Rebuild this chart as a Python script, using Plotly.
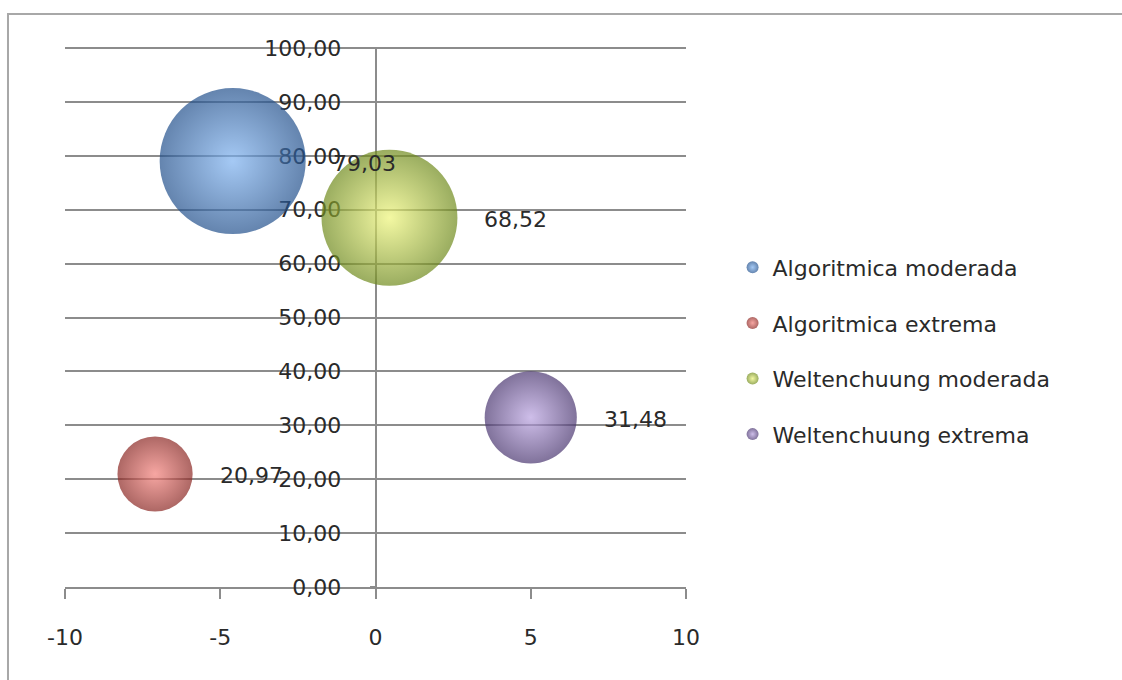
import plotly.graph_objects as go

# Series data
series_names = ["Algoritmica moderada", "Algoritmica extrema",
                "Weltenchuung moderada", "Weltenchuung extrema"]
x_vals = [-4.6, -7.1, 0.45, 5.0]
y_vals = [79.03, 20.97, 68.52, 31.48]
bubble_sizes = [79.03, 20.97, 68.52, 31.48]

# (shaded edge colour, highlight colour) per series
edge_colors = ["#22508c", "#8a2622", "#6f8a1c", "#4a3670"]
center_colors = ["#7eb2f0", "#f3807a", "#eef57a", "#b9a2e0"]

x_ticks = [-10, -5, 0, 5, 10]
x_tick_text = ["-10", "-5", "0", "5", "10"]
y_ticks = [0, 10, 20, 30, 40, 50, 60, 70, 80, 90, 100]

W, H = 1122, 680
MARGIN = dict(l=65, r=436, t=47, b=93)
MAX_DIAM = 146
# area sizing: rendered diameter = sqrt(2 * size / sizeref)
sizeref = 2 * max(bubble_sizes) / MAX_DIAM ** 2

TEXT_COLOR = "#2a2a2a"
AXIS_COLOR = "#8c8c8c"
FONT = "DejaVu Sans"
FSIZE = 22

fig = go.Figure()
for i, name in enumerate(series_names):
    fig.add_trace(go.Scatter(
        x=[x_vals[i]], y=[y_vals[i]],
        mode="markers",
        name=name,
        legendgroup=name,
        cliponaxis=False,
        marker=dict(
            size=[bubble_sizes[i]],
            sizemode="area",
            sizeref=sizeref,
            color=edge_colors[i],
            gradient=dict(type="radial", color=center_colors[i]),
            line=dict(width=0),
        ),
        hoverinfo="skip",
    ))
    # value label to the right of each bubble
    diam = (2 * bubble_sizes[i] / sizeref) ** 0.5
    fig.add_annotation(
        x=x_vals[i], y=y_vals[i], xref="x", yref="y",
        text=f"{y_vals[i]:.2f}".replace(".", ","),
        showarrow=False, xanchor="left", yanchor="middle",
        xshift=diam / 2 + 25,
        yshift=-2,
        font=dict(family=FONT, size=FSIZE, color=TEXT_COLOR),
    )

# outer chart frame
fig.add_shape(type="rect", xref="paper", yref="paper",
              x0=-0.0918, x1=1.8, y0=-0.4, y1=1.061,
              line=dict(color="#a8a8a8", width=2), layer="below")

fig.update_layout(
    width=W, height=H,
    margin=MARGIN,
    paper_bgcolor="white",
    plot_bgcolor="white",
    separators=",.",
    showlegend=True,
    legend=dict(
        x=1.075, y=0.437, xanchor="left", yanchor="middle",
        font=dict(family=FONT, size=FSIZE, color=TEXT_COLOR),
        itemsizing="constant",
        tracegroupgap=24,
        bgcolor="rgba(0,0,0,0)",
    ),
    xaxis=dict(
        range=[-10, 10], tickvals=x_ticks, ticktext=x_tick_text,
        showgrid=False, zeroline=False,
        showline=True, linecolor=AXIS_COLOR, linewidth=1.5,
        ticks="outside", ticklen=10, tickcolor=AXIS_COLOR, tickwidth=1.5,
        ticklabelstandoff=20,
        tickfont=dict(family=FONT, size=FSIZE, color=TEXT_COLOR),
        layer="below traces",
    ),
    yaxis=dict(
        range=[0, 100.2], tickvals=y_ticks, tickformat=".2f",
        showgrid=True, gridcolor=AXIS_COLOR, gridwidth=1.5,
        zeroline=False,
        showline=True, linecolor=AXIS_COLOR, linewidth=1.5,
        anchor="free", position=0.5,
        ticks="outside", ticklen=5, tickcolor=AXIS_COLOR, tickwidth=1.5,
        ticklabelstandoff=24,
        tickfont=dict(family=FONT, size=FSIZE, color=TEXT_COLOR),
        layer="below traces",
    ),
)

fig.write_html("out.html")
